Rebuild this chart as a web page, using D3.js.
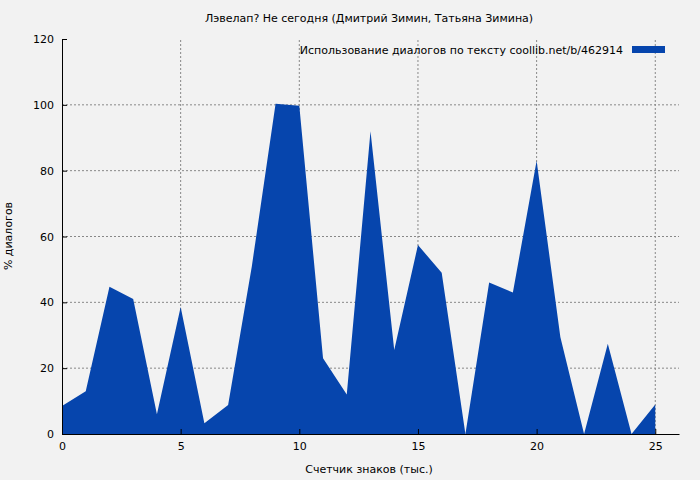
<!DOCTYPE html>
<html><head><meta charset="utf-8">
<script src="https://cdn.jsdelivr.net/npm/d3@7"></script>
<style>body{margin:0;background:#f2f2f2}text{font-family:"DejaVu Sans",sans-serif;font-size:11px;fill:#000}</style>
</head><body><svg id="c" width="700" height="480"></svg>
<script>
var xs = d3.range(0, 26)
var vals = [8.5,13,44.7,41,6,38.6,3.3,8.8,51,100.3,99.7,23,12,92,25.5,57.4,49,0,46,43,83,29.5,0,27.4,0,9]
var xTicks = [0,5,10,15,20,25]
var yTicks = [0,20,40,60,80,100,120]

var svg = d3.select('#c')
svg.append('rect').attr('width',700).attr('height',480).attr('fill','#f2f2f2')
var x = d3.scaleLinear().domain([0,26]).range([62,679])
var y = d3.scaleLinear().domain([0,120]).range([434,39])

// grid
xTicks.slice(1).forEach(function(t){
    svg.append('line').attr('x1',x(t)).attr('x2',x(t)).attr('y1',y(0)).attr('y2',y(120))
        .attr('stroke','#888').attr('stroke-dasharray','2,2')
})
yTicks.slice(1,-1).forEach(function(t){
    svg.append('line').attr('x1',x(0)).attr('x2',x(26)).attr('y1',y(t)).attr('y2',y(t))
        .attr('stroke','#888').attr('stroke-dasharray','2,2')
})

var area = d3.area().x(function(d,i){return x(xs[i])}).y0(y(0)).y1(function(d){return y(d)})
svg.append('path').datum(vals).attr('d',area).attr('fill','#0645ad')

svg.append('g').attr('transform','translate(0,434)')
    .call(d3.axisBottom(x).tickValues(xTicks).tickSize(-5).tickSizeOuter(0).tickPadding(8))
svg.append('g').attr('transform','translate(62,0)')
    .call(d3.axisLeft(y).tickValues(yTicks).tickSize(-5).tickSizeOuter(0).tickPadding(8))
svg.selectAll('.domain').attr('stroke','#000')
svg.selectAll('.tick text').style('font-family','DejaVu Sans').style('font-size','11px')

svg.append('text').attr('x',369).attr('y',22).attr('text-anchor','middle')
    .text('Лэвелап? Не сегодня (Дмитрий Зимин, Татьяна Зимина)')
svg.append('text').attr('x',369).attr('y',473).attr('text-anchor','middle').text('Счетчик знаков (тыс.)')
svg.append('text').attr('transform','translate(12,236) rotate(-90)').attr('text-anchor','middle').text('% диалогов')
svg.append('text').attr('x',623).attr('y',54).attr('text-anchor','end')
    .text('Использование диалогов по тексту  coollib.net/b/462914')
svg.append('rect').attr('x',632).attr('y',46).attr('width',33).attr('height',7).attr('fill','#0645ad')
</script></body></html>
